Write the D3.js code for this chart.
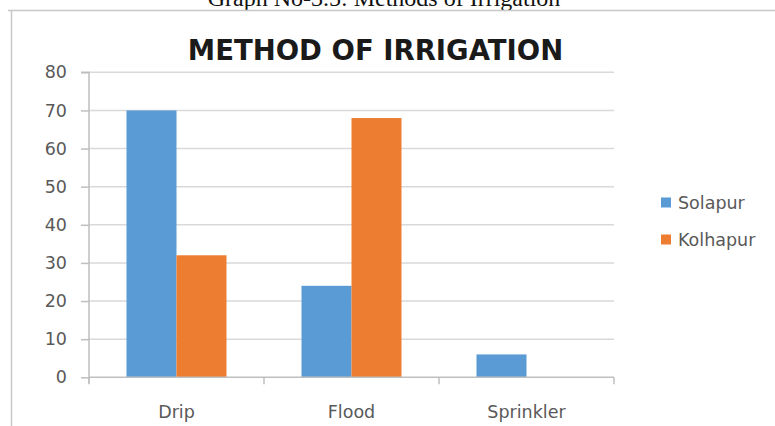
<!DOCTYPE html>
<html>
<head>
<meta charset="utf-8">
<script src="https://cdn.jsdelivr.net/npm/d3@7"></script>
<style>
  html, body { margin: 0; padding: 0; background: #fff; }
  svg { display: block; }
</style>
</head>
<body>
<svg id="chart" width="775" height="426"></svg>
<script>
const categories = ["Drip", "Flood", "Sprinkler"];
const seriesNames = ["Solapur", "Kolhapur"];
const solapur = [70, 24, 6];
const kolhapur = [32, 68, 0];
const yTicks = [0, 10, 20, 30, 40, 50, 60, 70, 80];
const chartTitle = "METHOD OF IRRIGATION";
const caption = "Graph No-3.5: Methods of Irrigation";

const colors = ["#5b9bd5", "#ed7d31"];
const seriesValues = [solapur, kolhapur];
const labelFont = "'DejaVu Sans', 'Open Sans', sans-serif";

const svg = d3.select("#chart");
const W = 775, H = 426;
const plot = { left: 89, right: 614, top: 72.3, bottom: 377.3 };

// caption (cut off at top in the reference) and frame lines
svg.append("text")
  .attr("x", 384).attr("y", 6)
  .attr("text-anchor", "middle")
  .attr("font-family", "'Liberation Serif', 'DejaVu Serif', serif")
  .attr("font-size", 24)
  .attr("fill", "#111")
  .text(caption);

svg.append("line").attr("x1", 8).attr("x2", W).attr("y1", 10.5).attr("y2", 10.5)
  .attr("stroke", "#c8c8c8").attr("stroke-width", 1.5);
svg.append("line").attr("x1", 11.5).attr("x2", 11.5).attr("y1", 10).attr("y2", H)
  .attr("stroke", "#c8c8c8").attr("stroke-width", 1.5);

const x0 = d3.scaleBand().domain(categories).range([plot.left, plot.right]).paddingInner(0).paddingOuter(0);
const x1 = d3.scaleBand().domain(seriesNames).range([0, x0.bandwidth()]).paddingInner(0);
// outer padding so that the two bars take 100px of the 175px band
x1.paddingOuter((x0.bandwidth() - 100) / 2 / 50);

const y = d3.scaleLinear().domain([0, 80]).range([plot.bottom, plot.top]);

// gridlines
svg.append("g").selectAll("line").data(yTicks.filter(d => d > 0)).join("line")
  .attr("x1", plot.left).attr("x2", plot.right)
  .attr("y1", d => y(d)).attr("y2", d => y(d))
  .attr("stroke", "#d9d9d9").attr("stroke-width", 1.5);

// bars
const groups = svg.append("g").selectAll("g").data(categories).join("g")
  .attr("transform", d => `translate(${x0(d)},0)`);
groups.selectAll("rect")
  .data((c, i) => seriesNames.map((s, j) => ({ s, v: seriesValues[j][i], j })))
  .join("rect")
  .attr("x", d => x1(d.s))
  .attr("width", x1.bandwidth())
  .attr("y", d => y(d.v))
  .attr("height", d => y(0) - y(d.v))
  .attr("fill", d => colors[d.j]);

// y axis
const yAxis = d3.axisLeft(y).tickValues(yTicks).tickSize(8).tickPadding(14).tickFormat(d3.format("d"));
const gy = svg.append("g").attr("transform", `translate(${plot.left},0)`).call(yAxis);
gy.select(".domain").attr("stroke", "#bfbfbf").attr("stroke-width", 1.5).attr("d", `M-8,${plot.top}H0V${plot.bottom + 6}`);
gy.selectAll(".tick line").attr("stroke", "#bfbfbf").attr("stroke-width", 1.5);
gy.selectAll(".tick text")
  .attr("fill", "#595959")
  .attr("font-family", labelFont)
  .attr("font-size", 17.5);

// x axis
const xAxis = d3.axisBottom(x0).tickSize(0).tickPadding(28);
const gx = svg.append("g").attr("transform", `translate(0,${plot.bottom})`).call(xAxis);
gx.select(".domain").attr("stroke", "#bfbfbf").attr("stroke-width", 1.5).attr("d", `M${plot.left},0H${plot.right}`);
gx.selectAll(".tick text")
  .attr("fill", "#595959")
  .attr("font-family", labelFont)
  .attr("font-size", 17.5);
// category separator ticks
const boundaries = categories.map(c => x0(c)).concat([plot.right]);
gx.append("g").selectAll("line").data(boundaries).join("line")
  .attr("x1", d => d).attr("x2", d => d).attr("y1", 0).attr("y2", 7)
  .attr("stroke", "#bfbfbf").attr("stroke-width", 1.5);

// title
svg.append("text")
  .attr("x", 375.5).attr("y", 60)
  .attr("text-anchor", "middle")
  .attr("font-family", labelFont)
  .attr("font-weight", "bold")
  .attr("font-size", 27.5)
  .attr("fill", "#1a1a1a")
  .text(chartTitle);

// legend
const legend = svg.append("g").selectAll("g").data(seriesNames).join("g")
  .attr("transform", (d, i) => `translate(661,${197.5 + i * 37})`);
legend.append("rect").attr("width", 10).attr("height", 10).attr("fill", (d, i) => colors[i]);
legend.append("text")
  .attr("x", 17).attr("y", 5).attr("dy", "0.36em")
  .attr("fill", "#595959")
  .attr("font-family", labelFont)
  .attr("font-size", 17.5)
  .text(d => d);
</script>
</body>
</html>
